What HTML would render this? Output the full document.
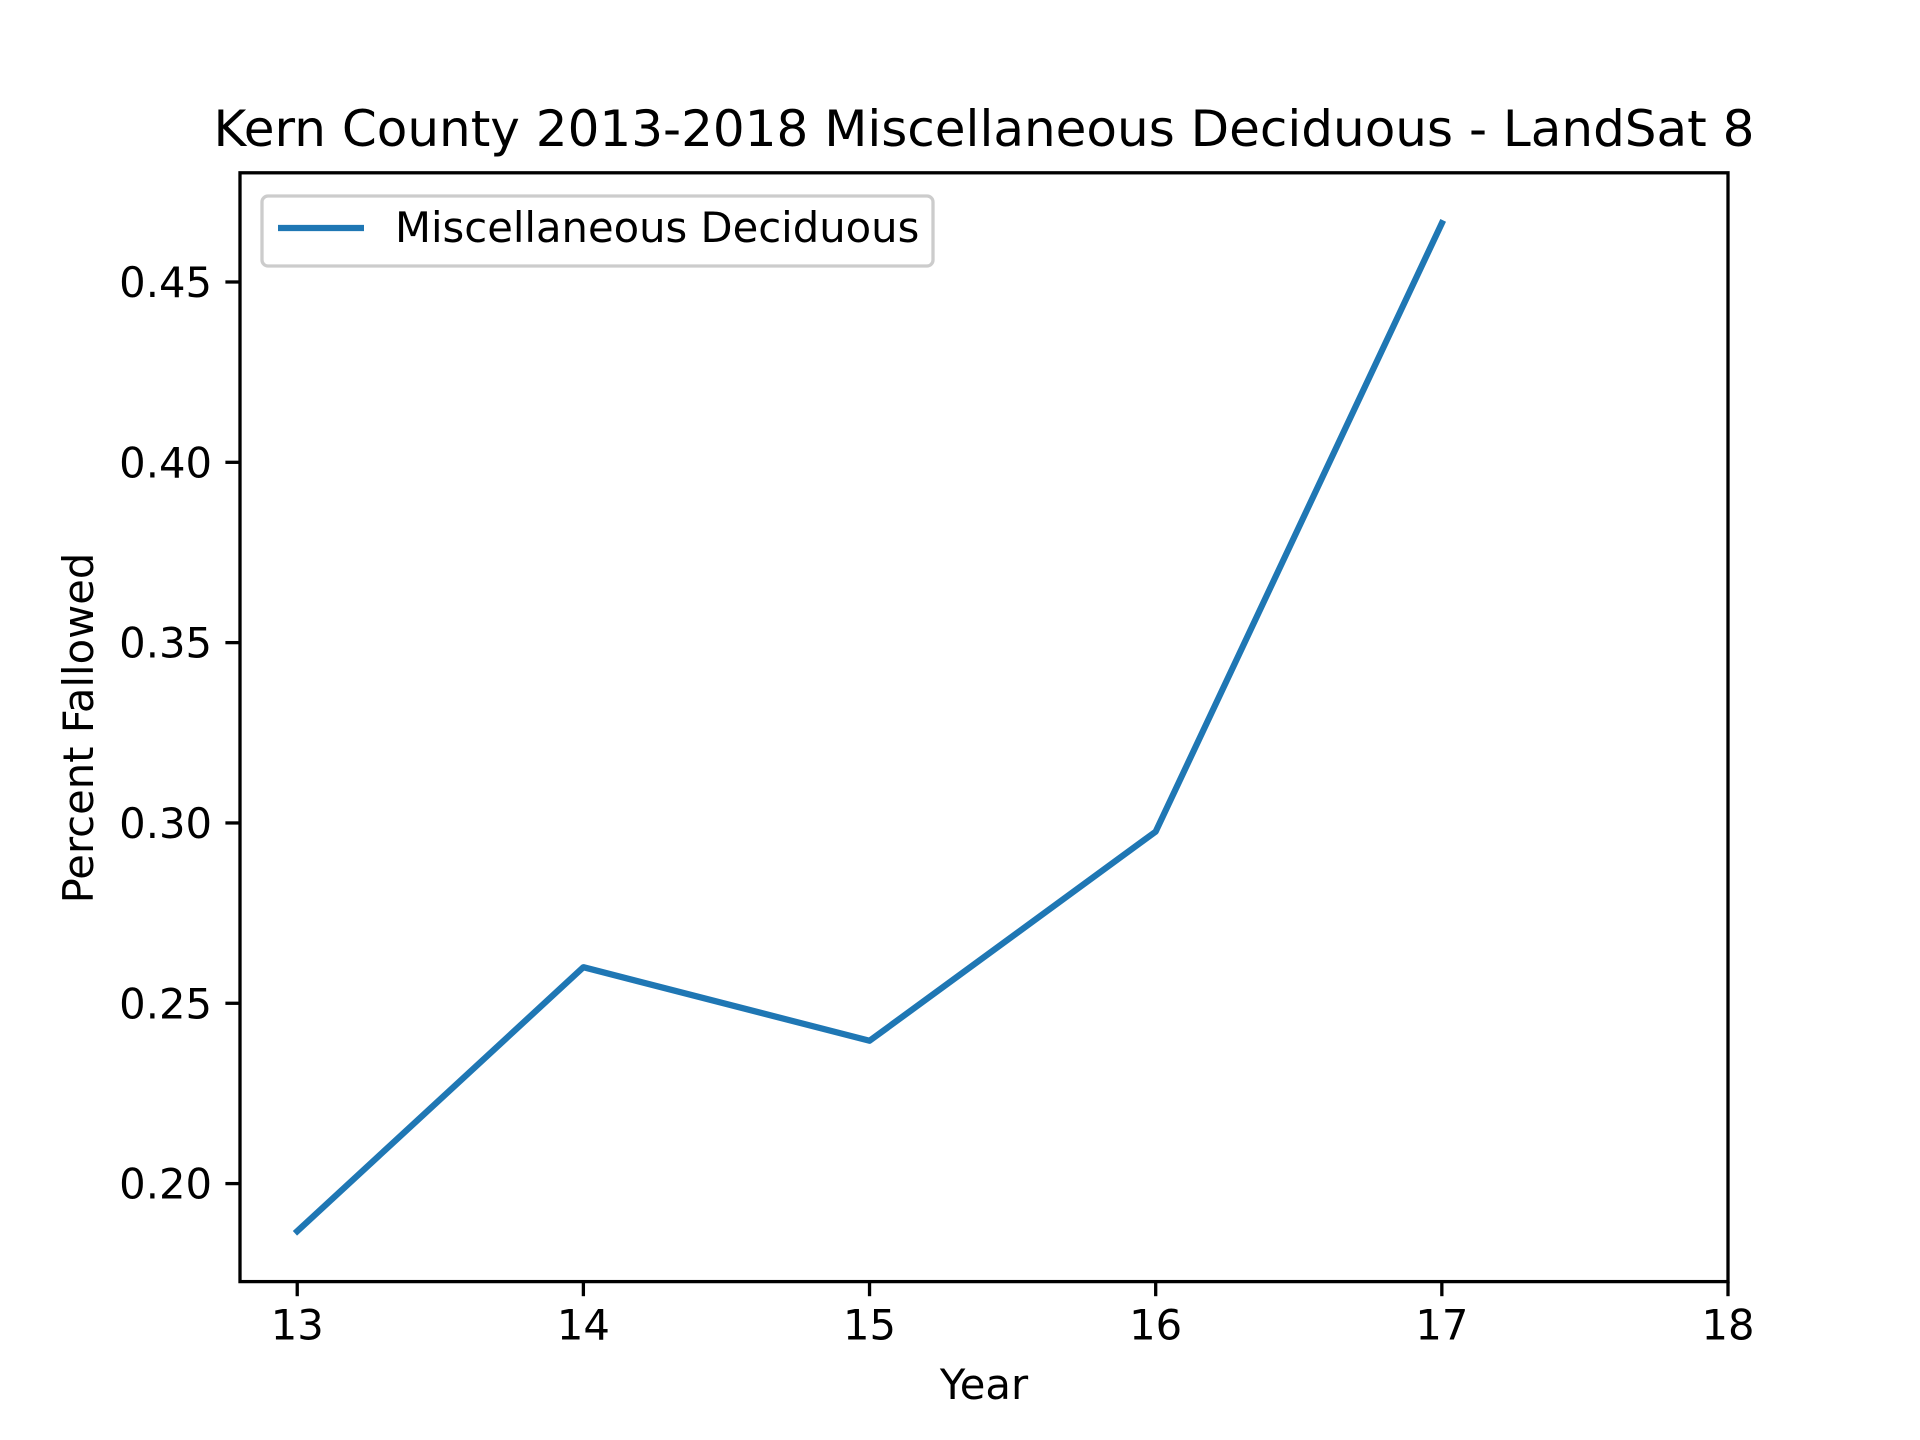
<!DOCTYPE html>
<html><head><meta charset="utf-8"><style>
html,body{margin:0;padding:0;background:#fff}
svg{display:block}
text{font-family:"DejaVu Sans","Liberation Sans",sans-serif;fill:#000}
</style></head><body>
<svg id="chart" width="1920" height="1440" viewBox="0 0 1920 1440">
<rect width="1920" height="1440" fill="#fff"/>
<text x="984" y="146" font-size="50" text-anchor="middle">Kern County 2013-2018 Miscellaneous Deciduous - LandSat 8</text>
<g id="xticks"></g>
<g id="yticks"></g>
<path id="series" fill="none" stroke="#1f77b4" stroke-width="6.25" stroke-linejoin="round" stroke-linecap="square"/>
<rect x="240" y="172.8" width="1488" height="1108.8" fill="none" stroke="#000" stroke-width="3.3"/>
<text x="984" y="1399" font-size="41.7" text-anchor="middle">Year</text>
<text transform="translate(93,728) rotate(-90)" font-size="41.7" text-anchor="middle">Percent Fallowed</text>
<g>
<rect x="262" y="196" width="671" height="70" rx="6" fill="#fff" fill-opacity="0.8" stroke="#ccc" stroke-width="3.3"/>
<line x1="278" y1="228" x2="364" y2="228" stroke="#1f77b4" stroke-width="6.25"/>
<text x="395" y="242" font-size="41.7">Miscellaneous Deciduous</text>
</g>
</svg>
<script>
const years = [13, 14, 15, 16, 17];
const values = [0.1868, 0.2600, 0.2396, 0.2976, 0.4663];
const xTicks = [13, 14, 15, 16, 17, 18];
const yTicks = [0.20, 0.25, 0.30, 0.35, 0.40, 0.45];
const yTickLabels = ["0.20", "0.25", "0.30", "0.35", "0.40", "0.45"];

const NS = "http://www.w3.org/2000/svg";
const L = 240, R = 1728, T = 172.8, B = 1281.6;
const xMin = 12.8, xMax = 18;
const span = Math.max(...values) - Math.min(...values);
const yMin = Math.min(...values) - 0.05 * span, yMax = Math.max(...values) + 0.05 * span;
const xs = v => L + (v - xMin) / (xMax - xMin) * (R - L);
const ys = v => B - (v - yMin) / (yMax - yMin) * (B - T);

const gx = document.getElementById('xticks');
xTicks.forEach(t => {
  const l = document.createElementNS(NS, 'line');
  l.setAttribute('x1', xs(t)); l.setAttribute('x2', xs(t));
  l.setAttribute('y1', B); l.setAttribute('y2', B + 14.6);
  l.setAttribute('stroke', '#000'); l.setAttribute('stroke-width', '3.3');
  
  
  gx.appendChild(l);
  const tx = document.createElementNS(NS, 'text');
  tx.setAttribute('x', xs(t)); tx.setAttribute('y', B + 58);
  tx.setAttribute('font-size', '41.7'); tx.setAttribute('text-anchor', 'middle');
  tx.textContent = String(t);
  
  
  gx.appendChild(tx);
});
const gy = document.getElementById('yticks');
yTicks.forEach((t, i) => {
  const l = document.createElementNS(NS, 'line');
  l.setAttribute('x1', L - 14.6); l.setAttribute('x2', L);
  l.setAttribute('y1', ys(t)); l.setAttribute('y2', ys(t));
  l.setAttribute('stroke', '#000'); l.setAttribute('stroke-width', '3.3');
  
  
  gy.appendChild(l);
  const tx = document.createElementNS(NS, 'text');
  tx.setAttribute('x', L - 28); tx.setAttribute('y', ys(t) + 15);
  tx.setAttribute('font-size', '41.7'); tx.setAttribute('text-anchor', 'end');
  tx.textContent = yTickLabels[i];
  
  
  gy.appendChild(tx);
});
document.getElementById('series').setAttribute('d',
  years.map((y, i) => (i ? 'L' : 'M') + xs(y) + ' ' + ys(values[i])).join(' '));
</script>
</body></html>
